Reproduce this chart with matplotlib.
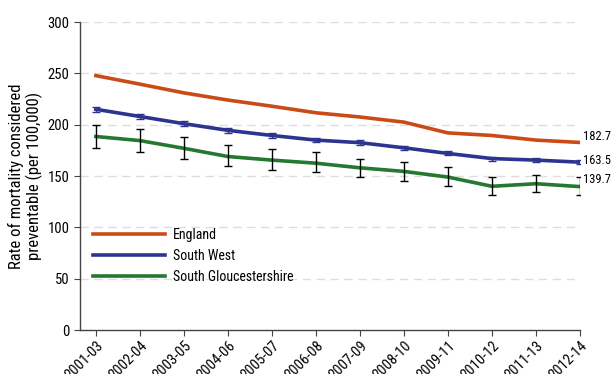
import matplotlib
matplotlib.use("Agg")
import matplotlib.pyplot as plt
from matplotlib import font_manager

periods = ["2001-03", "2002-04", "2003-05", "2004-06", "2005-07", "2006-08",
           "2007-09", "2008-10", "2009-11", "2010-12", "2011-13", "2012-14"]
england = [247.8, 239.5, 231.0, 224.0, 218.0, 211.6, 207.5, 202.5, 192.0, 189.5, 185.0, 182.7]
south_west = [215.0, 208.0, 201.0, 194.5, 189.5, 185.0, 182.5, 177.5, 172.0, 167.0, 165.5, 163.5]
sw_err = [2.5, 2.5, 2.5, 2.3, 2.2, 2.2, 2.2, 2.0, 2.0, 2.0, 1.8, 1.8]
south_glos = [188.5, 184.5, 177.0, 169.0, 165.5, 162.5, 158.0, 154.5, 149.0, 140.0, 142.5, 139.7]
sg_low = [177.5, 173.8, 166.8, 160.0, 156.0, 153.8, 149.0, 145.0, 140.0, 132.0, 134.0, 132.0]
sg_high = [199.5, 195.5, 187.8, 180.5, 176.0, 173.2, 167.0, 164.0, 159.0, 149.0, 151.0, 149.0]
end_labels = ["182.7", "163.5", "139.7"]

names = {f.name for f in font_manager.fontManager.ttflist}
fam = "Liberation Sans"
for cand in ["Liberation Sans Narrow", "Nimbus Sans Narrow", "Arial Narrow",
             "Roboto Condensed", "Archivo Narrow", "Barlow Semi Condensed"]:
    if cand in names:
        fam = cand
        break
plt.rcParams['font.family'] = [fam, 'DejaVu Sans']

fig = plt.figure(figsize=(6.11, 3.74), dpi=100)
ax = fig.add_axes([0.131, 0.1176, 0.818, 0.8235])

x = list(range(len(periods)))
c_eng = "#CB4B16"
c_sw = "#2B3590"
c_sg = "#25782F"

ax.plot(x, england, color=c_eng, lw=2.6, label="England", zorder=3)
ax.plot(x, south_west, color=c_sw, lw=2.6, label="South West", zorder=3)
ax.errorbar(x, south_west, yerr=sw_err, fmt='none', ecolor=c_sw,
            elinewidth=1.0, capsize=3, zorder=4)
sg_err = [[m - l for m, l in zip(south_glos, sg_low)], [h - m for m, h in zip(south_glos, sg_high)]]
ax.plot(x, south_glos, color=c_sg, lw=2.6, label="South Gloucestershire", zorder=3)
ax.errorbar(x, south_glos, yerr=sg_err, fmt='none', ecolor="black",
            elinewidth=1.0, capsize=3, zorder=4)

ax.set_ylim(0, 300)
ax.set_xlim(-0.36, 11)
ax.set_yticks(range(0, 301, 50))
ax.set_xticks(x)
ax.set_xticklabels(periods, rotation=45, ha='right', rotation_mode='anchor')
for yv in range(50, 301, 50):
    ax.axhline(yv, color="#DDDDDD", lw=1.0, ls=(0, (6, 4)), zorder=1)

for s in ["top", "right"]:
    ax.spines[s].set_visible(False)
for s in ["left", "bottom"]:
    ax.spines[s].set_color("#444444")
    ax.spines[s].set_linewidth(1.0)
ax.tick_params(axis='y', colors="#444444", labelcolor="black", labelsize=10.5, length=4)
ax.tick_params(axis='x', colors="#444444", labelcolor="black", labelsize=10.5, length=4, pad=2)

ax.set_ylabel("Rate of mortality considered\npreventable (per 100,000)", fontsize=12, labelpad=3)

for val, lab, off in zip([england[-1], south_west[-1], south_glos[-1]], end_labels, [4, 1, 5]):
    ax.annotate(lab, xy=(x[-1], val), xytext=(2, off), textcoords="offset points",
                ha='left', va='center', fontsize=9, annotation_clip=False)

leg = ax.legend(loc='upper left', bbox_to_anchor=(0.0, 0.372), frameon=False, fontsize=10,
                handlelength=5.2, labelspacing=0.5, handletextpad=0.6)

fig.savefig("out.png", dpi=100)
